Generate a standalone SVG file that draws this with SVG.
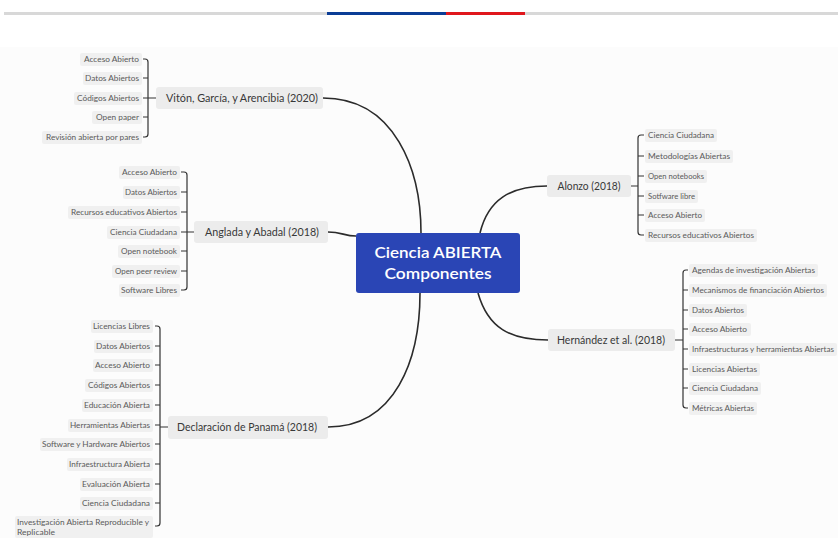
<svg xmlns="http://www.w3.org/2000/svg" width="838" height="538" viewBox="0 0 838 538">
<defs>
<style>
.bg{fill:#fcfcfc}
.leaf{fill:#f0f0f0}
.branch{fill:#ececec}
.lt{font-family:Lato,"Open Sans","Liberation Sans",sans-serif;font-size:7.5px;fill:#5a5a5a}
.bt{font-family:Lato,"Open Sans","Liberation Sans",sans-serif;font-size:11px;fill:#383838}
.ct{font-family:Lato,"Open Sans","Liberation Sans",sans-serif;font-size:15.5px;font-weight:600;fill:#fff}
.con{fill:none;stroke:#2b2b2b;stroke-width:1.6}
.br{fill:none;stroke:#333;stroke-width:1.2}
</style>
</defs>
<rect x="0" y="0" width="838" height="538" fill="#ffffff"/>
<rect x="0" y="47" width="838" height="491" class="bg"/>
<g id="topbar">
<rect x="4" y="12" width="834" height="3" fill="#d8d8d8"/>
<rect x="327" y="12" width="119" height="3" fill="#0b3d96"/>
<rect x="446" y="12" width="79" height="3" fill="#e0171d"/>
</g>
<g id="connectors">
<path class="con" d="M323,98 C395,98 421,170 421,233"/>
<path class="con" d="M328,232 C342,232 344,236 356,236"/>
<path class="con" d="M328,427 C395,427 420,360 420,293"/>
<path class="con" d="M480,233 C488,200 510,186 547,186"/>
<path class="con" d="M478,293 C488,328 510,340 548,340"/>
<path class="br" d="M143,59 H145 Q148,59 148,62 V134 Q148,137 145,137 H143 M143,78 H148 M143,98 H156 M143,117 H148"/>
<path class="br" d="M181,172 H184 Q187,172 187,175 V287 Q187,290 184,290 H181 M181,192 H187 M181,212 H187 M181,232 H194 M181,251 H187 M181,271 H187"/>
<path class="br" d="M155,326 H157 Q160,326 160,329 V523 Q160,526 157,526 H155 M155,346 H160 M155,365 H160 M155,385 H160 M155,405 H160 M155,425 H160 M160,427 H168 M155,444 H160 M155,464 H160 M155,484 H160 M155,503 H160"/>
<path class="br" d="M631,186 H638 M644,135 H641 Q638,135 638,138 V232 Q638,235 641,235 H644 M638,156 H644 M638,176 H644 M638,196 H644 M638,215 H644"/>
<path class="br" d="M675,340 H683 M688,270 H686 Q683,270 683,273 V405 Q683,408 686,408 H688 M683,290 H688 M683,310 H688 M683,329 H688 M683,349 H688 M683,369 H688 M683,388 H688"/>
</g>
<g id="central">
<rect x="356" y="233" width="164" height="60" rx="3" fill="#2a45b5"/>
<text class="ct" x="438" y="258" text-anchor="middle" textLength="127" lengthAdjust="spacingAndGlyphs">Ciencia ABIERTA</text>
<text class="ct" x="438" y="279" text-anchor="middle" textLength="107" lengthAdjust="spacingAndGlyphs">Componentes</text>
</g>
<g id="viton">
<rect class="branch" x="156" y="87" width="167" height="22" rx="3"/>
<text class="bt" x="242" y="102" text-anchor="middle" textLength="152" lengthAdjust="spacingAndGlyphs">Vitón, García, y Arencibia (2020)</text>
</g>
<g id="viton-leaves">
<rect class="leaf" x="80" y="53" width="62" height="13" rx="2"/><text class="lt" x="139" y="62" text-anchor="end" textLength="55" lengthAdjust="spacingAndGlyphs">Acceso Abierto</text>
<rect class="leaf" x="83" y="72" width="59" height="13" rx="2"/><text class="lt" x="139" y="81" text-anchor="end" textLength="54" lengthAdjust="spacingAndGlyphs">Datos Abiertos</text>
<rect class="leaf" x="74" y="92" width="68" height="13" rx="2"/><text class="lt" x="139" y="101" text-anchor="end" textLength="62" lengthAdjust="spacingAndGlyphs">Códigos Abiertos</text>
<rect class="leaf" x="92" y="111" width="50" height="13" rx="2"/><text class="lt" x="139" y="120" text-anchor="end" textLength="43" lengthAdjust="spacingAndGlyphs">Open paper</text>
<rect class="leaf" x="42" y="131" width="100" height="13" rx="2"/><text class="lt" x="139" y="140" text-anchor="end" textLength="93" lengthAdjust="spacingAndGlyphs">Revisión abierta por pares</text>
</g>
<g id="anglada">
<rect class="branch" x="194" y="221" width="134" height="22" rx="3"/>
<text class="bt" x="262" y="236" text-anchor="middle" textLength="114" lengthAdjust="spacingAndGlyphs">Anglada y Abadal (2018)</text>
</g>
<g id="anglada-leaves">
<rect class="leaf" x="119" y="166" width="61" height="13" rx="2"/><text class="lt" x="177" y="175" text-anchor="end" textLength="55" lengthAdjust="spacingAndGlyphs">Acceso Abierto</text>
<rect class="leaf" x="123" y="186" width="57" height="13" rx="2"/><text class="lt" x="177" y="195" text-anchor="end" textLength="52" lengthAdjust="spacingAndGlyphs">Datos Abiertos</text>
<rect class="leaf" x="68" y="206" width="112" height="13" rx="2"/><text class="lt" x="177" y="215" text-anchor="end" textLength="106" lengthAdjust="spacingAndGlyphs">Recursos educativos Abiertos</text>
<rect class="leaf" x="107" y="226" width="73" height="13" rx="2"/><text class="lt" x="177" y="235" text-anchor="end" textLength="67" lengthAdjust="spacingAndGlyphs">Ciencia Ciudadana</text>
<rect class="leaf" x="118" y="245" width="62" height="13" rx="2"/><text class="lt" x="177" y="254" text-anchor="end" textLength="56" lengthAdjust="spacingAndGlyphs">Open notebook</text>
<rect class="leaf" x="112" y="265" width="68" height="13" rx="2"/><text class="lt" x="177" y="274" text-anchor="end" textLength="62" lengthAdjust="spacingAndGlyphs">Open peer review</text>
<rect class="leaf" x="119" y="284" width="61" height="13" rx="2"/><text class="lt" x="177" y="293" text-anchor="end" textLength="56" lengthAdjust="spacingAndGlyphs">Software Libres</text>
</g>
<g id="declaracion">
<rect class="branch" x="168" y="416" width="160" height="23" rx="3"/>
<text class="bt" x="247" y="431" text-anchor="middle" textLength="140" lengthAdjust="spacingAndGlyphs">Declaración de Panamá (2018)</text>
</g>
<g id="declaracion-leaves">
<rect class="leaf" x="91" y="320" width="62" height="13" rx="2"/><text class="lt" x="150" y="329" text-anchor="end" textLength="57" lengthAdjust="spacingAndGlyphs">Licencias Libres</text>
<rect class="leaf" x="94" y="340" width="59" height="13" rx="2"/><text class="lt" x="150" y="349" text-anchor="end" textLength="54" lengthAdjust="spacingAndGlyphs">Datos Abiertos</text>
<rect class="leaf" x="93" y="359" width="60" height="13" rx="2"/><text class="lt" x="150" y="368" text-anchor="end" textLength="55" lengthAdjust="spacingAndGlyphs">Acceso Abierto</text>
<rect class="leaf" x="85" y="379" width="68" height="13" rx="2"/><text class="lt" x="150" y="388" text-anchor="end" textLength="62" lengthAdjust="spacingAndGlyphs">Códigos Abiertos</text>
<rect class="leaf" x="82" y="399" width="71" height="13" rx="2"/><text class="lt" x="150" y="408" text-anchor="end" textLength="66" lengthAdjust="spacingAndGlyphs">Educación Abierta</text>
<rect class="leaf" x="68" y="419" width="85" height="13" rx="2"/><text class="lt" x="150" y="428" text-anchor="end" textLength="80" lengthAdjust="spacingAndGlyphs">Herramientas Abiertas</text>
<rect class="leaf" x="40" y="438" width="113" height="13" rx="2"/><text class="lt" x="150" y="447" text-anchor="end" textLength="108" lengthAdjust="spacingAndGlyphs">Software y Hardware Abiertos</text>
<rect class="leaf" x="67" y="458" width="86" height="13" rx="2"/><text class="lt" x="150" y="467" text-anchor="end" textLength="81" lengthAdjust="spacingAndGlyphs">Infraestructura Abierta</text>
<rect class="leaf" x="80" y="478" width="73" height="13" rx="2"/><text class="lt" x="150" y="487" text-anchor="end" textLength="68" lengthAdjust="spacingAndGlyphs">Evaluación Abierta</text>
<rect class="leaf" x="80" y="497" width="73" height="13" rx="2"/><text class="lt" x="150" y="506" text-anchor="end" textLength="68" lengthAdjust="spacingAndGlyphs">Ciencia Ciudadana</text>
<rect class="leaf" x="15" y="516" width="138" height="22" rx="2"/>
<text class="lt" x="17" y="525" textLength="132" lengthAdjust="spacingAndGlyphs">Investigación Abierta Reproducible y</text>
<text class="lt" x="17" y="535" textLength="38" lengthAdjust="spacingAndGlyphs">Replicable</text>
</g>
<g id="alonzo">
<rect class="branch" x="547" y="175" width="84" height="22" rx="3"/>
<text class="bt" x="589" y="190" text-anchor="middle" textLength="63" lengthAdjust="spacingAndGlyphs">Alonzo (2018)</text>
</g>
<g id="alonzo-leaves">
<rect class="leaf" x="645" y="129" width="72" height="13" rx="2"/><text class="lt" x="648" y="138" textLength="66" lengthAdjust="spacingAndGlyphs">Ciencia Ciudadana</text>
<rect class="leaf" x="645" y="150" width="88" height="13" rx="2"/><text class="lt" x="648" y="159" textLength="82" lengthAdjust="spacingAndGlyphs">Metodologías Abiertas</text>
<rect class="leaf" x="645" y="170" width="62" height="13" rx="2"/><text class="lt" x="648" y="179" textLength="56" lengthAdjust="spacingAndGlyphs">Open notebooks</text>
<rect class="leaf" x="645" y="190" width="53" height="13" rx="2"/><text class="lt" x="648" y="199" textLength="47" lengthAdjust="spacingAndGlyphs">Sotfware libre</text>
<rect class="leaf" x="645" y="209" width="60" height="13" rx="2"/><text class="lt" x="648" y="218" textLength="54" lengthAdjust="spacingAndGlyphs">Acceso Abierto</text>
<rect class="leaf" x="645" y="229" width="112" height="13" rx="2"/><text class="lt" x="648" y="238" textLength="106" lengthAdjust="spacingAndGlyphs">Recursos educativos Abiertos</text>
</g>
<g id="hernandez">
<rect class="branch" x="548" y="329" width="127" height="22" rx="3"/>
<text class="bt" x="611" y="344" text-anchor="middle" textLength="108" lengthAdjust="spacingAndGlyphs">Hernández et al. (2018)</text>
</g>
<g id="hernandez-leaves">
<rect class="leaf" x="689" y="264" width="129" height="13" rx="2"/><text class="lt" x="692" y="273" textLength="123" lengthAdjust="spacingAndGlyphs">Agendas de investigación Abiertas</text>
<rect class="leaf" x="689" y="284" width="138" height="13" rx="2"/><text class="lt" x="692" y="293" textLength="132" lengthAdjust="spacingAndGlyphs">Mecanismos de financiación Abiertos</text>
<rect class="leaf" x="689" y="304" width="58" height="13" rx="2"/><text class="lt" x="692" y="313" textLength="52" lengthAdjust="spacingAndGlyphs">Datos Abiertos</text>
<rect class="leaf" x="689" y="323" width="62" height="13" rx="2"/><text class="lt" x="692" y="332" textLength="55" lengthAdjust="spacingAndGlyphs">Acceso Abierto</text>
<rect class="leaf" x="689" y="343" width="148" height="13" rx="2"/><text class="lt" x="692" y="352" textLength="142" lengthAdjust="spacingAndGlyphs">Infraestructuras y herramientas Abiertas</text>
<rect class="leaf" x="689" y="363" width="71" height="13" rx="2"/><text class="lt" x="692" y="372" textLength="65" lengthAdjust="spacingAndGlyphs">Licencias Abiertas</text>
<rect class="leaf" x="689" y="382" width="72" height="13" rx="2"/><text class="lt" x="692" y="391" textLength="66" lengthAdjust="spacingAndGlyphs">Ciencia Ciudadana</text>
<rect class="leaf" x="689" y="402" width="68" height="13" rx="2"/><text class="lt" x="692" y="411" textLength="62" lengthAdjust="spacingAndGlyphs">Métricas Abiertas</text>
</g>
</svg>
